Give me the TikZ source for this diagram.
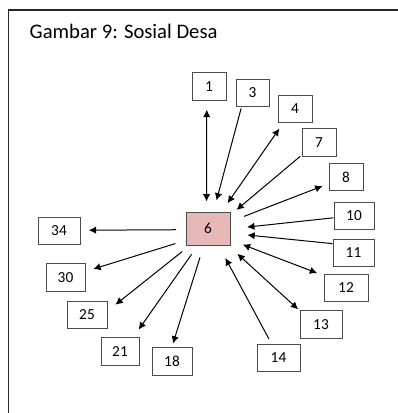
\documentclass[tikz,border=0pt]{standalone}
\usepackage{fontspec}
\setmainfont{Carlito}
\usetikzlibrary{arrows.meta}
\definecolor{boxpink}{HTML}{E6B8B7}
\tikzset{
  numbox/.style={draw=black!70, line width=0.75pt, minimum height=20.5pt, inner sep=0pt, font=\fontsize{11.5}{13}\selectfont},
  link/.style={line width=0.75pt, -{Latex[length=5.5pt,width=5.5pt]}},
  twoway/.style={line width=0.75pt, {Latex[length=5.5pt,width=5.5pt]}-{Latex[length=5.5pt,width=5.5pt]}},
}
\begin{document}
\begin{tikzpicture}[x=0.75pt,y=-0.75pt]
\useasboundingbox (0,0) rectangle (398,413);
\draw[line width=1.1pt, black!85] (398,10) -- (8.5,10) -- (8.5,413);
\node[anchor=base west, font=\fontsize{15.5}{18}\selectfont] (title) at (25,39) {Gambar 9: Sosial Desa};
\node[numbox, minimum width=33pt, minimum height=24.75pt, fill=boxpink] (n6) at (208,228.5) {6};
\node[numbox, minimum width=25.5pt] (n1) at (209,86.5) {1};
\node[numbox, minimum width=24.75pt] (n3) at (252.5,93) {3};
\node[numbox, minimum width=25.5pt] (n4) at (295,109) {4};
\node[numbox, minimum width=25.5pt] (n7) at (319,142.5) {7};
\node[numbox, minimum width=25.5pt] (n8) at (346,177) {8};
\node[numbox, minimum width=30pt] (n10) at (354,216) {10};
\node[numbox, minimum width=30.75pt] (n11) at (353.5,253) {11};
\node[numbox, minimum width=33pt] (n12) at (346,288) {12};
\node[numbox, minimum width=31.5pt] (n13) at (321,324.5) {13};
\node[numbox, minimum width=32.25pt] (n14) at (278.5,358) {14};
\node[numbox, minimum width=30pt] (n18) at (172,361.5) {18};
\node[numbox, minimum width=28.5pt] (n21) at (120,351.5) {21};
\node[numbox, minimum width=30pt] (n25) at (87,315) {25};
\node[numbox, minimum width=29.25pt] (n30) at (65.5,277.5) {30};
\node[numbox, minimum width=31.5pt] (n34) at (59,231) {34};
\draw[twoway, shorten <=6.8pt, shorten >=7.5pt](n1.261) -- (n6.95);
\draw[link, shorten <=1pt, shorten >=8.6pt](n3.232) -- (n6.72);
\draw[twoway, shorten <=4.9pt, shorten >=7.6pt](n4.230) -- (n6.51);
\draw[link, shorten <=1.2pt, shorten >=5.9pt](n7.216) -- (n6.31);
\draw[link, shorten <=10.9pt, shorten >=4.8pt](n6.17) -- (n8.201);
\draw[link, shorten >=12.5pt](n10.185) -- (n6.359);
\draw[link, shorten >=12.7pt](n11.156) -- (n6.348);
\draw[twoway, shorten <=9.8pt, shorten >=5.1pt](n6.333) -- (n12.151);
\draw[twoway, shorten <=9.2pt, shorten >=1.4pt](n6.320) -- (n13.147);
\draw[link, shorten <=4.2pt, shorten >=10.6pt](n14.116) -- (n6.302);
\draw[link, shorten <=9.4pt, shorten >=3pt](n6.256) -- (n18.91);
\draw[link, shorten <=8.1pt, shorten >=7.1pt](n6.239) -- (n21.47);
\draw[link, shorten <=7.3pt, shorten >=7.6pt](n6.223) -- (n25.11);
\draw[link, shorten <=7.9pt, shorten >=6.1pt](n6.208) -- (n30.17);
\draw[link, shorten <=7pt, shorten >=6.2pt](n6.183) -- (n34.2);
\end{tikzpicture}
\end{document}
